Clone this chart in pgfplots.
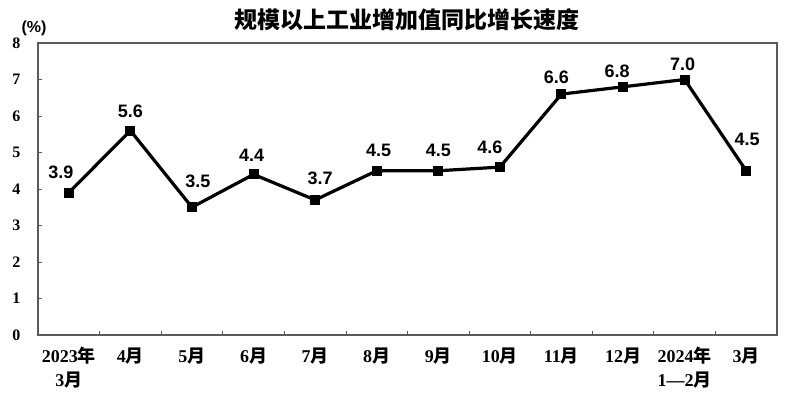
\documentclass[border=0pt]{standalone}
\usepackage{fontspec}
\usepackage{pgfplots}
\pgfplotsset{compat=1.18}
\setmainfont{Liberation Serif}
\newfontfamily\cjk{Noto Sans CJK SC}
\newfontfamily\arialf{Liberation Sans}
\newcommand{\Y}{{\cjk\bfseries 年}}
\newcommand{\M}{{\cjk\bfseries 月}}
\definecolor{frame}{HTML}{5A5A5A}
\begin{document}
\begin{tikzpicture}
\useasboundingbox (-38pt,-64pt) rectangle (749pt,335pt);
\begin{axis}[
  at={(0pt,0pt)}, anchor=south west,
  scale only axis, width=739pt, height=292pt,
  xmin=-0.5, xmax=11.5, ymin=0, ymax=8,
  xtick={0,...,11},
  xticklabels={{2023\Y\\3\M},4\M,5\M,6\M,7\M,8\M,9\M,10\M,11\M,12\M,{2024\Y\\1—2\M},3\M},
  major x tick style={draw=none},
  minor xtick={0.5,1.5,...,10.5},
  minor tick length=4pt,
  major tick length=4pt,
  ytick={0,...,8},
  tick align=inside, tick pos=left,
  axis line style={draw=frame, line width=1.4pt},
  every tick/.style={draw=frame, line width=0.8pt},
  /pgf/number format/assume math mode=true,
  yticklabel style={font=\fontsize{16}{18}\selectfont\bfseries, xshift=-14pt},
  xticklabel style={font=\fontsize{18}{24}\selectfont\bfseries, align=center, anchor=north, yshift=-9pt},
  nodes near coords,
  nodes near coords style={font=\arialf\fontsize{18}{20}\selectfont\bfseries, anchor=south, inner sep=0pt, /pgf/number format/.cd, fixed, fixed zerofill, precision=1},
  clip=false,
]
\addplot[black, line width=3.2pt, mark=square*, mark size=3.4pt, mark options={solid},
  coordinate style/.condition={x==0}{xshift=-8pt, yshift=12pt},
  coordinate style/.condition={x==1}{xshift=0pt, yshift=11pt},
  coordinate style/.condition={x==2}{xshift=6pt, yshift=18pt},
  coordinate style/.condition={x==3}{xshift=-2pt, yshift=11pt},
  coordinate style/.condition={x==4}{xshift=5pt, yshift=14pt},
  coordinate style/.condition={x==5}{xshift=2pt, yshift=12pt},
  coordinate style/.condition={x==6}{xshift=0pt, yshift=12pt},
  coordinate style/.condition={x==7}{xshift=-10pt, yshift=12pt},
  coordinate style/.condition={x==8}{xshift=-5pt, yshift=9pt},
  coordinate style/.condition={x==9}{xshift=-6pt, yshift=8pt},
  coordinate style/.condition={x==10}{xshift=-2pt, yshift=7pt},
  coordinate style/.condition={x==11}{xshift=1pt, yshift=23pt},
] coordinates {
(0,3.9) (1,5.6) (2,3.5) (3,4.4) (4,3.7) (5,4.5) (6,4.5) (7,4.6) (8,6.6) (9,6.8) (10,7.0) (11,4.5)
};
\end{axis}
\node[font=\cjk\bfseries\fontsize{23}{25}\selectfont] at (369pt,315pt) {规模以上工业增加值同比增长速度};
\node[font=\arialf\bfseries\fontsize{16}{18}\selectfont] at (-4pt,307pt) {(\%)};
\end{tikzpicture}
\end{document}
